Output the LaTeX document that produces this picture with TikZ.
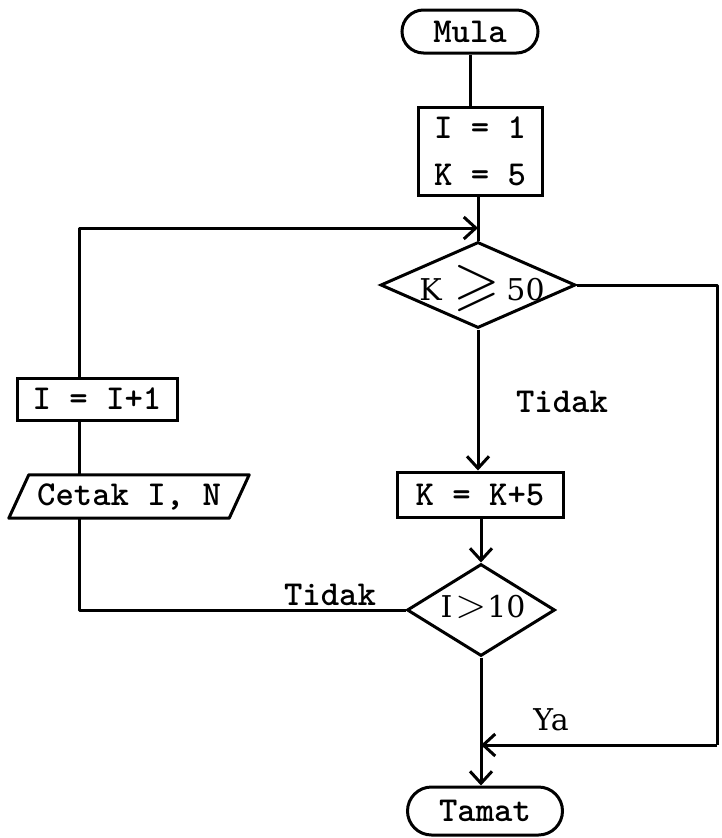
\documentclass[tikz,border=0pt]{standalone}
\usepackage{fix-cm}
\usepackage{amssymb}
\usepackage{graphicx}
\usepackage{fontspec}
\newfontfamily\serifdv{DejaVu Serif}
\usetikzlibrary{shapes.geometric,shapes.misc,arrows.meta,calc}
\begin{document}
\begin{tikzpicture}[x=1pt,y=-1pt,
  flow/.style={line width=3pt, line join=round},
  arr/.style={flow, -{Straight Barb[length=12pt,width=22pt,line width=3pt]}},
  tt/.style={font=\fontsize{35}{47}\selectfont\ttfamily\bfseries},
  rmtext/.style={font=\fontsize{30}{34}\selectfont\serifdv},
  term/.style={draw, line width=3pt, rounded rectangle, tt, inner sep=0pt},
  proc/.style={draw, line width=3pt, rectangle, tt, inner sep=0pt},
  dec/.style={draw, line width=3pt, diamond, inner sep=0pt},
]
\useasboundingbox (0,0) rectangle (721,838);
% nodes
\node[term, minimum width=136pt, minimum height=43pt] (mula) at (470,31.5) {Mula};
\node[proc, minimum width=124pt, minimum height=88pt, align=center] (b1) at (480,151) {I = 1\\K = 5};
\node[dec, minimum width=195pt, minimum height=86pt] (d1) at (478,285) {};
\node[rmtext] (t1) at (482,288) {K\hspace{12pt}\raisebox{-3pt}{\scalebox{2}{$\geqslant$}}\hspace{6pt}50};
\node[proc, minimum width=166pt, minimum height=45pt] (k5) at (480,494.5) {K = K+5};
\node[dec, minimum width=148pt, minimum height=92pt] (d2) at (481,610) {};
\node[rmtext] (t2) at (483,607) {I\hspace{3pt}\scalebox{1.35}{$>$}\hspace{1pt}10};
\node[term, minimum width=155pt, minimum height=48pt] (tamat) at (485,811) {Tamat};
\node[proc, minimum width=160pt, minimum height=42pt] (i1) at (97,399) {I = I+1};
\node[tt, minimum width=220pt, minimum height=43pt, inner sep=0pt] (ct) at (129,496.5) {Cetak I, N};
\draw[flow] ([shift={(10,0)}]ct.north west) -- ([shift={(10,0)}]ct.north east)
  -- ([shift={(-10,0)}]ct.south east) -- ([shift={(-10,0)}]ct.south west) -- cycle;
% labels
\node[tt] (l1) at (562,402) {Tidak};
\node[tt] (l2) at (330,595) {Tidak};
\node[rmtext] (l3) at (551,720) {Ya};
% helper coordinates
\coordinate (lx) at (79,0);
\coordinate (topy) at (0,228);
\coordinate (rx) at (717,745);
% connectors
\draw[flow] (mula.south) -- (mula.south |- b1.north);
\draw[flow] (d1.north |- b1.south) -- (d1.north);
\draw[arr] (i1.north -| lx) |- (d1.north |- topy);
\draw[flow] (i1.south -| lx) -- (lx |- ct.north);
\draw[flow] (lx |- ct.south) |- (d2.west);
\draw[arr] (d1.south) -- (d1.south |- k5.north);
\draw[arr] (d2.north |- k5.south) -- (d2.north);
\draw[arr] (d2.south) -- (d2.south |- tamat.north);
\draw[flow] (d1.east) -| (rx);
\draw[arr] (rx) -- (d2.south |- rx);
\end{tikzpicture}
\end{document}
